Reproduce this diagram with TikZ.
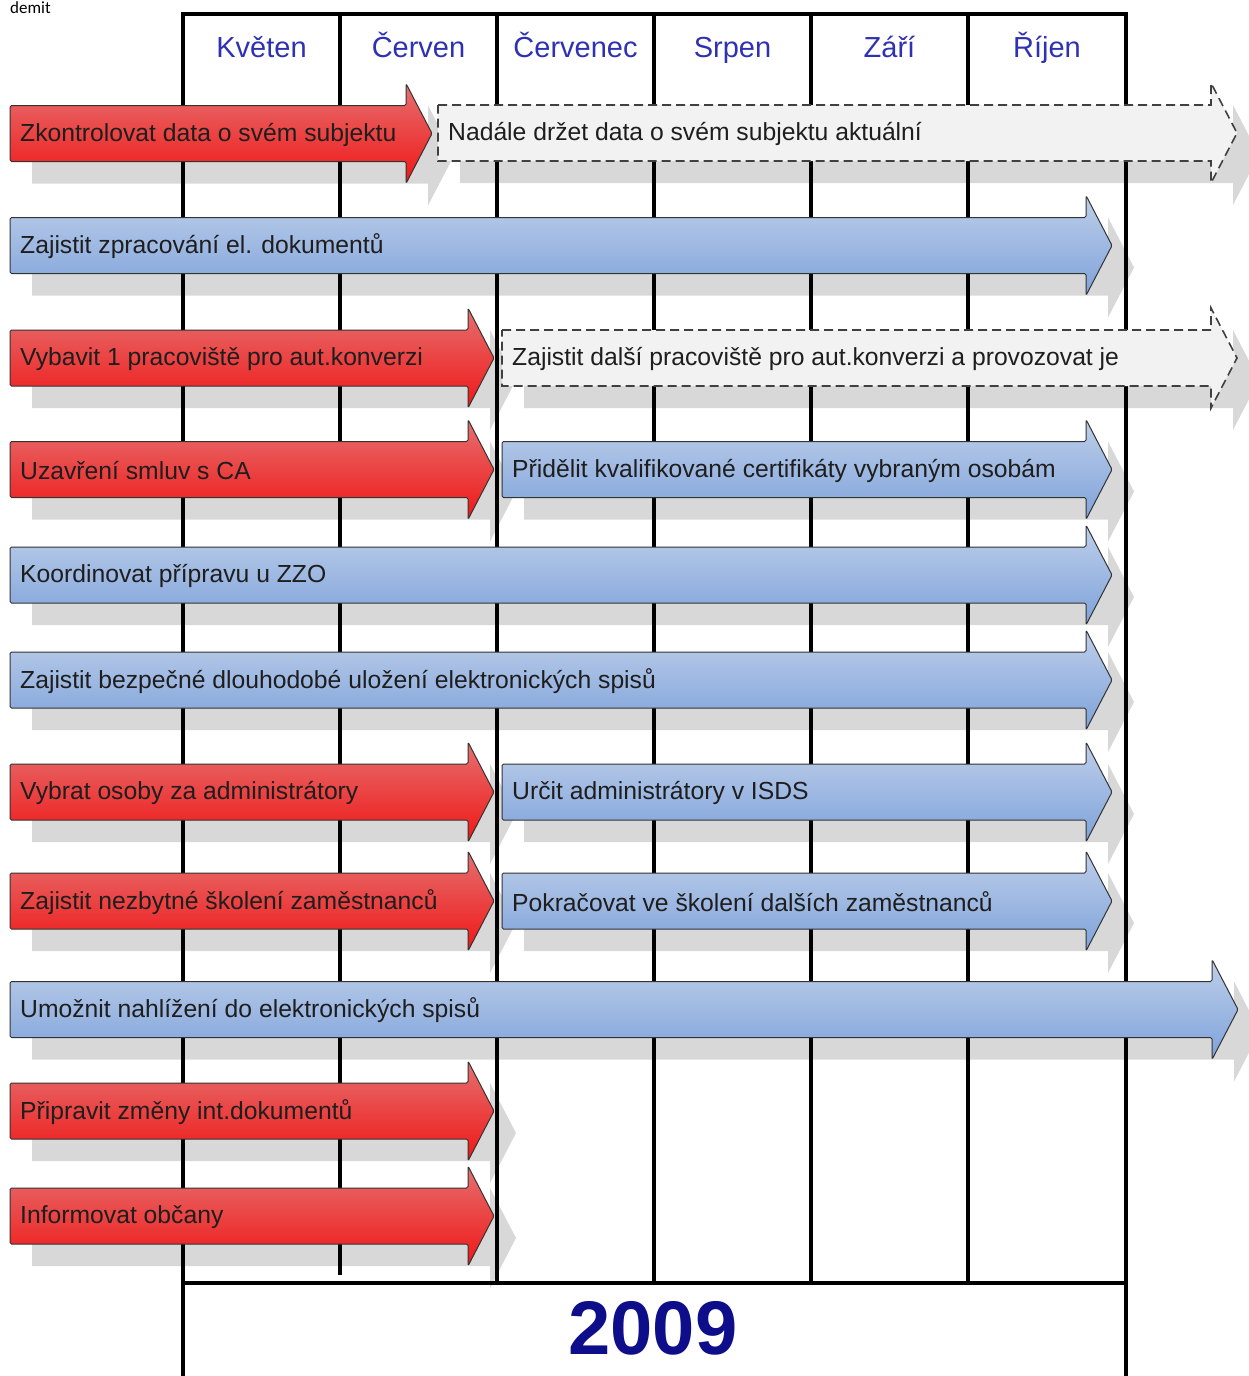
\documentclass[tikz,border=0pt]{standalone}
\usepackage{fontspec}
\setmainfont{Liberation Sans}
\newfontfamily\notefont{Carlito}
\usepackage{xcolor}
\usepackage{tikz}
\usetikzlibrary{positioning}

\definecolor{redtop}{RGB}{230,112,112}
\definecolor{redbot}{RGB}{240,22,22}
\definecolor{bluetop}{RGB}{190,207,234}
\definecolor{bluebot}{RGB}{126,162,218}
\definecolor{planfill}{RGB}{242,242,242}
\definecolor{monthblue}{RGB}{46,50,178}
\definecolor{yearblue}{RGB}{14,14,138}
\definecolor{shadowgray}{RGB}{216,216,216}
\definecolor{tasktextcol}{RGB}{30,30,30}

\pgfdeclarelayer{shadow}
\pgfdeclarelayer{grid}
\pgfsetlayers{shadow,grid,main}

% #1 name, #2 style, #3 left x, #4 tip x, #5 middle y, #6 text
\newcommand{\taskarrow}[6]{%
	\begin{pgfonlayer}{shadow}
		\fill[shadowgray, xshift=22pt, yshift=-22pt] (#3,{#5-28}) -- ({#4-26},{#5-28}) -- ({#4-26},{#5-50}) -- (#4,#5) -- ({#4-26},{#5+50}) -- ({#4-26},{#5+28}) -- (#3,{#5+28}) -- cycle;
	\end{pgfonlayer}
	\draw[#2] (#3,{#5-28}) -- ({#4-26},{#5-28}) -- ({#4-26},{#5-50}) -- (#4,#5) -- ({#4-26},{#5+50}) -- ({#4-26},{#5+28}) -- (#3,{#5+28}) -- cycle;
	\node[tasktext] (#1) at ({#3+10},{#5+1}) {#6};
}

\tikzset{
	gridline/.style={line width=4pt, black},
	redtask/.style={draw=black!80, line width=1pt, rounded corners=1.5pt, top color=redtop, bottom color=redbot},
	bluetask/.style={draw=black!80, line width=1pt, rounded corners=1.5pt, top color=bluetop, bottom color=bluebot},
	plantask/.style={draw=black!75, line width=1.6pt, dash pattern=on 9pt off 5pt, fill=planfill},
	tasktext/.style={anchor=west, inner sep=0pt, text=tasktextcol, font=\fontsize{24.7}{28}\selectfont},
	month/.style={anchor=base, inner sep=0pt, text=monthblue, font=\fontsize{29}{33}\selectfont},
	year/.style={text=yearblue, font=\fontsize{76}{80}\selectfont\bfseries}
}

\begin{document}
\begin{tikzpicture}[x=1pt, y=-1pt]
	\useasboundingbox (0,0) rectangle (1249,1376);
	
	\node[anchor=base west, inner sep=0pt, font=\notefont\fontsize{17}{19}\selectfont] (cutoff) at (10,13) {demit};
	
	% months
	\node[month] (kveten)   at (261.5,57) {Květen};
	\node[month] (cerven)   at (418.5,57) {Červen};
	\node[month] (cervenec) at (575.5,57) {Červenec};
	\node[month] (srpen)    at (732.5,57) {Srpen};
	\node[month] (zari)     at (889.5,57) {Září};
	\node[month] (rijen)    at (1047,57) {Říjen};
	
	\begin{pgfonlayer}{grid}
		\draw[gridline] (183,1376) -- (183,14) -- (1126,14) -- (1126,1376);
		\draw[gridline] (181,1283) -- (1128,1283);
		\draw[gridline] (340,14) -- (340,1275);
		\foreach \x in {497,654,811,968}
			\draw[gridline] (\x,14) -- (\x,1283);
	\end{pgfonlayer}
	
	\node[year] (year) at (653,1328) {2009};
	
	% tasks
	\taskarrow{check}{redtask}{10}{432}{133.5}{Zkontrolovat data o svém subjektu}
	\taskarrow{keepdata}{plantask}{438}{1237}{133}{Nadále držet data o svém subjektu aktuální}
	\taskarrow{eldocs}{bluetask}{10}{1112}{245.5}{Zajistit zpracování el. dokumentů}
	\taskarrow{workplace}{redtask}{10}{494}{358}{Vybavit 1 pracoviště pro aut.konverzi}
	\taskarrow{moreplaces}{plantask}{502}{1237}{358}{Zajistit další pracoviště pro aut.konverzi a provozovat je}
	\taskarrow{contracts}{redtask}{10}{494}{469.5}{Uzavření smluv s CA}
	\taskarrow{certs}{bluetask}{502}{1112}{469.5}{Přidělit kvalifikované certifikáty vybraným osobám}
	\taskarrow{zzo}{bluetask}{10}{1112}{575}{Koordinovat přípravu u ZZO}
	\taskarrow{storage}{bluetask}{10}{1112}{680}{Zajistit bezpečné dlouhodobé uložení elektronických spisů}
	\taskarrow{admins}{redtask}{10}{494}{792}{Vybrat osoby za administrátory}
	\taskarrow{isds}{bluetask}{502}{1112}{792}{Určit administrátory v ISDS}
	\taskarrow{training}{redtask}{10}{494}{901}{Zajistit nezbytné školení zaměstnanců}
	\taskarrow{moretraining}{bluetask}{502}{1112}{901}{Pokračovat ve školení dalších zaměstnanců}
	\taskarrow{viewing}{bluetask}{10}{1238}{1009.5}{Umožnit nahlížení do elektronických spisů}
	\taskarrow{internal}{redtask}{10}{494}{1111}{Připravit změny int.dokumentů}
	\taskarrow{citizens}{redtask}{10}{494}{1216}{Informovat občany}
\end{tikzpicture}
\end{document}
